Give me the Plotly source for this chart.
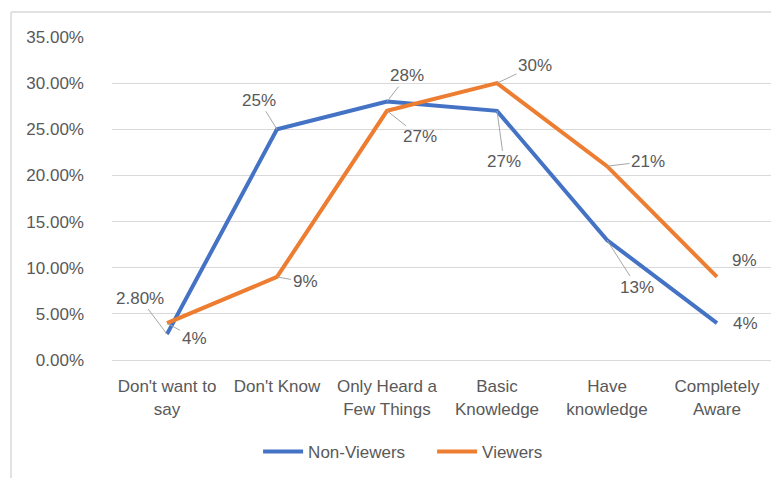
import plotly.graph_objects as go

categories = ["Don't want to<br>say", "Don't Know", "Only Heard a<br>Few Things", "Basic<br>Knowledge", "Have<br>knowledge", "Completely<br>Aware"]
non_viewers = [0.028, 0.25, 0.28, 0.27, 0.13, 0.04]
viewers = [0.04, 0.09, 0.27, 0.30, 0.21, 0.09]
non_viewer_labels = ["2.80%", "25%", "28%", "27%", "13%", "4%"]
viewer_labels = ["4%", "9%", "27%", "30%", "21%", "9%"]
y_ticks = [0, 0.05, 0.10, 0.15, 0.20, 0.25, 0.30, 0.35]

BLUE = "#4472C4"
ORANGE = "#ED7D31"
TEXT = "#595959"
GRID = "#D9D9D9"
FONT = "Liberation Sans"
FS = 17

x_idx = list(range(len(categories)))

fig = go.Figure()
fig.add_trace(go.Scatter(x=x_idx, y=non_viewers, mode="lines", name="Non-Viewers",
                         line=dict(color=BLUE, width=4), hoverinfo="skip"))
fig.add_trace(go.Scatter(x=x_idx, y=viewers, mode="lines", name="Viewers",
                         line=dict(color=ORANGE, width=4), hoverinfo="skip"))

# label offsets (pixels) and leader-line visibility
nv_off = [(-27, -36, True), (-18, -29, True), (20, -26, True), (7, 51, True), (30, 47, True), (28, 0, False)]
v_off = [(27, 15, True), (28, 5, True), (33, 26, True), (38, -18, True), (41, -5, True), (27, -16, False)]

annotations = []
for vals, labels, offs in [(non_viewers, non_viewer_labels, nv_off), (viewers, viewer_labels, v_off)]:
    for i, (v, lab, (ax, ay, show)) in enumerate(zip(vals, labels, offs)):
        annotations.append(dict(
            x=i, y=v, xref="x", yref="y", text=lab,
            showarrow=True, ax=ax, ay=ay, axref="pixel", ayref="pixel",
            arrowhead=0, arrowwidth=1, standoff=0, startstandoff=0,
            arrowcolor="#A6A6A6" if show else "rgba(0,0,0,0)",
            font=dict(family=FONT, size=FS, color=TEXT),
        ))

shapes = [
    dict(type="line", xref="paper", yref="paper", x0=-0.153, x1=-0.153, y0=1.0774, y1=-0.4,
         line=dict(color=GRID, width=1.5)),
    dict(type="line", xref="paper", yref="paper", x0=-0.153, x1=1.03, y0=1.0774, y1=1.0774,
         line=dict(color=GRID, width=1.5)),
]

fig.update_layout(
    width=779, height=478,
    margin=dict(l=104, r=15, t=29, b=126, autoexpand=False),
    paper_bgcolor="white", plot_bgcolor="white",
    font=dict(family=FONT, size=FS, color=TEXT),
    showlegend=True,
    legend=dict(orientation="h", x=0.485, xanchor="center", y=-0.285, yanchor="middle",
                font=dict(family=FONT, size=FS, color=TEXT), itemwidth=40,
                entrywidth=119, entrywidthmode="pixels"),
    annotations=annotations,
    shapes=shapes,
)
fig.update_xaxes(tickmode="array", tickvals=x_idx, ticktext=categories, range=[-0.5, 5.5],
                 showgrid=False, zeroline=False, showline=True, linecolor=GRID, linewidth=1,
                 ticks="", ticklabelstandoff=11, fixedrange=True, automargin=False)
fig.update_yaxes(tickmode="array", tickvals=y_ticks, tickformat=".2%", range=[0, 0.35],
                 showgrid=True, gridcolor=GRID, gridwidth=1, zeroline=False, showline=False,
                 ticks="", ticklabelstandoff=27, fixedrange=True, automargin=False)

fig.write_html("out.html")
